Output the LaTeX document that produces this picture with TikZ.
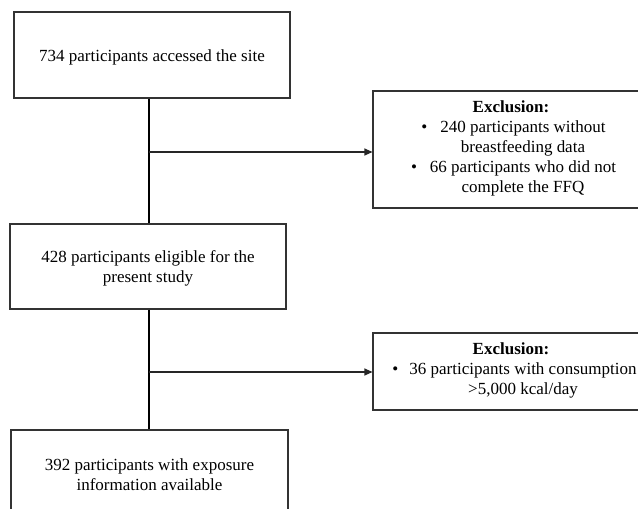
\documentclass[tikz,border=0pt]{standalone}
\usepackage{fontspec}
\setmainfont{Liberation Serif}
\usetikzlibrary{arrows.meta}
\begin{document}
\begin{tikzpicture}[x=1pt,y=-1pt,
  box/.style={draw=black!80, line width=1.1pt, minimum width=276pt, inner sep=0pt, fill=white},
  txt/.style={align=center, inner sep=0pt, font=\fontsize{17}{20}\selectfont},
  spine/.style={line width=2pt, black},
  branch/.style={line width=1.1pt, black!85, -{Triangle[length=8pt,width=7pt]}}]
\useasboundingbox (0,0) rectangle (638,509);
\clip (0,0) rectangle (638,509);
\fill[white] (0,0) rectangle (638,509);
% main boxes
\node[box, minimum height=86pt] (b1) at (152,55) {};
\node[txt] (b1t) at (152,57) {734 participants accessed the site};
\node[box, minimum height=85pt] (b3) at (148,266.5) {};
\node[txt] (b3t) at (148,268) {428 participants eligible for the\\present study};
\node[box, minimum height=94pt, minimum width=277pt] (b4) at (149.5,477) {};
\node[txt] (b4t) at (149.5,475) {392 participants with exposure\\information available};
% exclusion boxes
\node[box, minimum height=117pt] (e1) at (511,149.5) {};
\node[txt] (e1t) at (523,148) {\hspace*{-24pt}\textbf{Exclusion:}\\
  \llap{\textbullet\hspace{13pt}}240 participants without\\
  breastfeeding data\\
  \llap{\textbullet\hspace{13pt}}66 participants who did not\\
  complete the FFQ};
\node[box, minimum height=77pt] (e2) at (511,371.5) {};
\node[txt] (e2t) at (523,370) {\hspace*{-24pt}\textbf{Exclusion:}\\
  \llap{\textbullet\hspace{11pt}}36 participants with consumption\\
  {>}5,000 kcal/day};
% connectors
\coordinate (s) at (149,0);
\coordinate (j1) at (149,152);
\coordinate (j2) at (149,372);
\draw[spine] (b1.south -| s) -- (b3.north -| s);
\draw[spine] (b3.south -| s) -- (b4.north -| s);
\draw[branch] (j1) -- (j1 -| e1.west);
\draw[branch] (j2) -- (j2 -| e2.west);
\end{tikzpicture}
\end{document}
